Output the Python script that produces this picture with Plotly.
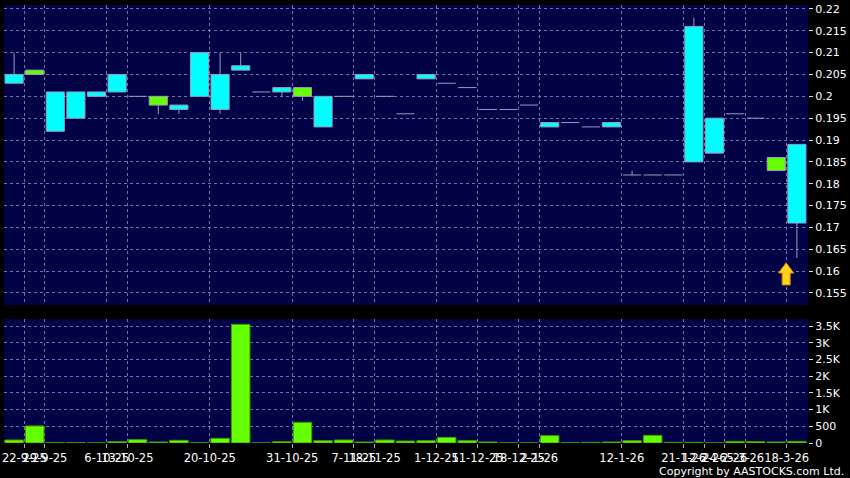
import plotly.graph_objects as go

# ---------------- data ----------------
opens  = [0.205, 0.205, 0.201, 0.201, 0.201, 0.205, 0.200, 0.198, 0.198, 0.210,
          0.205, 0.207, 0.201, 0.202, 0.200, 0.200, 0.200, 0.205, 0.200, 0.196,
          0.205, 0.203, 0.202, 0.197, 0.197, 0.198, 0.194, 0.194, 0.193, 0.194,
          0.182, 0.182, 0.182, 0.216, 0.195, 0.196, 0.195, 0.183, 0.189]
highs  = [0.210, 0.206, 0.201, 0.201, 0.201, 0.205, 0.200, 0.200, 0.198, 0.210,
          0.210, 0.210, 0.201, 0.202, 0.202, 0.200, 0.200, 0.205, 0.200, 0.196,
          0.205, 0.203, 0.202, 0.197, 0.197, 0.198, 0.194, 0.194, 0.193, 0.194,
          0.183, 0.182, 0.182, 0.218, 0.195, 0.196, 0.195, 0.186, 0.189]
lows   = [0.203, 0.205, 0.192, 0.195, 0.200, 0.201, 0.200, 0.196, 0.196, 0.200,
          0.196, 0.206, 0.201, 0.200, 0.199, 0.193, 0.200, 0.204, 0.200, 0.196,
          0.204, 0.203, 0.202, 0.197, 0.197, 0.198, 0.193, 0.194, 0.193, 0.193,
          0.182, 0.182, 0.182, 0.185, 0.187, 0.196, 0.195, 0.183, 0.163]
closes = [0.203, 0.206, 0.192, 0.195, 0.200, 0.201, 0.200, 0.200, 0.197, 0.200,
          0.197, 0.206, 0.201, 0.201, 0.202, 0.193, 0.200, 0.204, 0.200, 0.196,
          0.204, 0.203, 0.202, 0.197, 0.197, 0.198, 0.193, 0.194, 0.193, 0.193,
          0.182, 0.182, 0.182, 0.185, 0.187, 0.196, 0.195, 0.186, 0.171]
volumes = [90, 510, 15, 15, 5, 40, 100, 30, 80, 10,
           140, 3550, 5, 40, 620, 70, 90, 30, 90, 60,
           70, 170, 70, 30, 5, 5, 220, 10, 20, 30,
           70, 230, 20, 20, 5, 50, 40, 30, 50]

# candle index at which each date label starts
tick_candles = [1, 2, 5, 6, 10, 14, 17, 18, 21, 23, 25, 26, 30, 33, 34, 35, 36, 38]
tick_labels = ["22-9-25", "29-9-25", "6-10-25", "13-10-25", "20-10-25", "31-10-25",
               "7-11-25", "18-11-25", "1-12-25", "11-12-25", "18-12-25", "2-1-26",
               "12-1-26", "21-1-26", "12-2-26", "24-2-26", "5-3-26", "18-3-26"]

price_ticks = [0.155, 0.16, 0.165, 0.17, 0.175, 0.18, 0.185, 0.19, 0.195, 0.2,
               0.205, 0.21, 0.215, 0.22]
price_tick_text = ["0.155", "0.16", "0.165", "0.17", "0.175", "0.18", "0.185", "0.19",
                   "0.195", "0.2", "0.205", "0.21", "0.215", "0.22"]
vol_ticks = [0, 500, 1000, 1500, 2000, 2500, 3000, 3500]
vol_tick_text = ["0", "500", "1K", "1.5K", "2K", "2.5K", "3K", "3.5K"]

# ---------------- derived geometry ----------------
n = len(opens)
xs = list(range(n))
tickvals = [c - 0.5 for c in tick_candles]
BODY_W = 0.88

body_x, body_base, body_h, body_col = [], [], [], []
wick_x, wick_y = [], []
flat_x, flat_y = [], []
for i, (o, h, l, c) in enumerate(zip(opens, highs, lows, closes)):
    top, bot = max(o, c), min(o, c)
    if o != c:
        body_x.append(i)
        body_base.append(bot)
        body_h.append(top - bot)
        body_col.append("#66ff00" if c > o else "#00ffff")
    else:
        flat_x += [i - BODY_W / 2, i + BODY_W / 2, None]
        flat_y += [o, o, None]
    if h > top:
        wick_x += [i, i, None]
        wick_y += [top, h, None]
    if l < bot:
        wick_x += [i, i, None]
        wick_y += [l, bot, None]

GRID = "rgba(135,135,185,0.85)"
FONT = "DejaVu Sans"
LINE = "#9c9cbc"

fig = go.Figure()
fig.add_trace(go.Scatter(x=wick_x, y=wick_y, mode="lines", xaxis="x", yaxis="y",
                         line=dict(color=LINE, width=1), showlegend=False,
                         hoverinfo="skip"))
fig.add_trace(go.Scatter(x=flat_x, y=flat_y, mode="lines", xaxis="x", yaxis="y",
                         line=dict(color=LINE, width=1), showlegend=False,
                         hoverinfo="skip"))
fig.add_trace(go.Bar(x=body_x, y=body_h, base=body_base, width=BODY_W,
                     xaxis="x", yaxis="y",
                     marker=dict(color=body_col, line=dict(color=LINE, width=1)),
                     showlegend=False, hoverinfo="skip"))
fig.add_trace(go.Bar(
    x=xs, y=volumes, xaxis="x2", yaxis="y2", width=0.9,
    marker=dict(color="#66ff00", line=dict(color="#3c9a00", width=1)),
    showlegend=False, hoverinfo="skip",
))

# yellow arrow marker near the latest candle
ax_c, ay_tip, ay_base, ay_bot = 37.48, 0.1619, 0.15955, 0.15684
hw, sw = 0.37, 0.195
path = (f"M {ax_c},{ay_tip} L {ax_c+hw},{ay_base} L {ax_c+sw},{ay_base} "
        f"L {ax_c+sw},{ay_bot} L {ax_c-sw},{ay_bot} L {ax_c-sw},{ay_base} "
        f"L {ax_c-hw},{ay_base} Z")
fig.add_shape(type="path", path=path, xref="x", yref="y",
              fillcolor="#ffd21f", line=dict(color="#d98a00", width=1))

xr = [-0.49, 38.54]
common_x = dict(range=xr, tickmode="array", tickvals=tickvals, automargin=False,
                showgrid=True, gridcolor=GRID, griddash="3px,3px", gridwidth=1,
                zeroline=False, showline=False, fixedrange=True, tickangle=0)
common_y = dict(side="right", tickmode="array", ticks="outside", ticklen=4,
                tickcolor="#dddddd", automargin=False,
                showgrid=True, gridcolor=GRID, griddash="3px,3px", gridwidth=1,
                zeroline=False, showline=False, fixedrange=True,
                tickfont=dict(family=FONT, size=11, color="#ffffff"))

fig.update_layout(
    width=850, height=478,
    margin=dict(l=4, r=42, t=5, b=35, autoexpand=False),
    paper_bgcolor="#000000", plot_bgcolor="#020246",
    barmode="overlay",
    font=dict(family=FONT, color="#ffffff", size=11),
    xaxis=dict(**common_x, domain=[0, 1], anchor="y", showticklabels=False,
               ticks=""),
    xaxis2=dict(**common_x, domain=[0, 1], anchor="y2", matches="x",
                ticktext=tick_labels, showticklabels=True, ticks="outside",
                ticklen=4, tickcolor="#aaaaaa",
                tickfont=dict(family=FONT, size=11.5, color="#ffffff")),
    yaxis=dict(**common_y, domain=[0.3151, 1.0], range=[0.15225, 0.2209],
               tickvals=price_ticks, ticktext=price_tick_text),
    yaxis2=dict(**common_y, domain=[0.0, 0.2831], range=[0, 3710],
                tickvals=vol_ticks, ticktext=vol_tick_text),
)

fig.add_annotation(text="Copyright by AASTOCKS.com Ltd.", xref="paper", yref="paper",
                   x=1.0475, y=-0.064, xanchor="right", yanchor="middle",
                   showarrow=False, font=dict(family=FONT, size=11, color="#ffffff"))

fig.write_html("out.html",
               config={"displayModeBar": False, "staticPlot": True},
               post_script="document.body.style.margin='0px';"
                           "document.body.style.overflow='hidden';"
                           "document.body.style.background='#000000';")
